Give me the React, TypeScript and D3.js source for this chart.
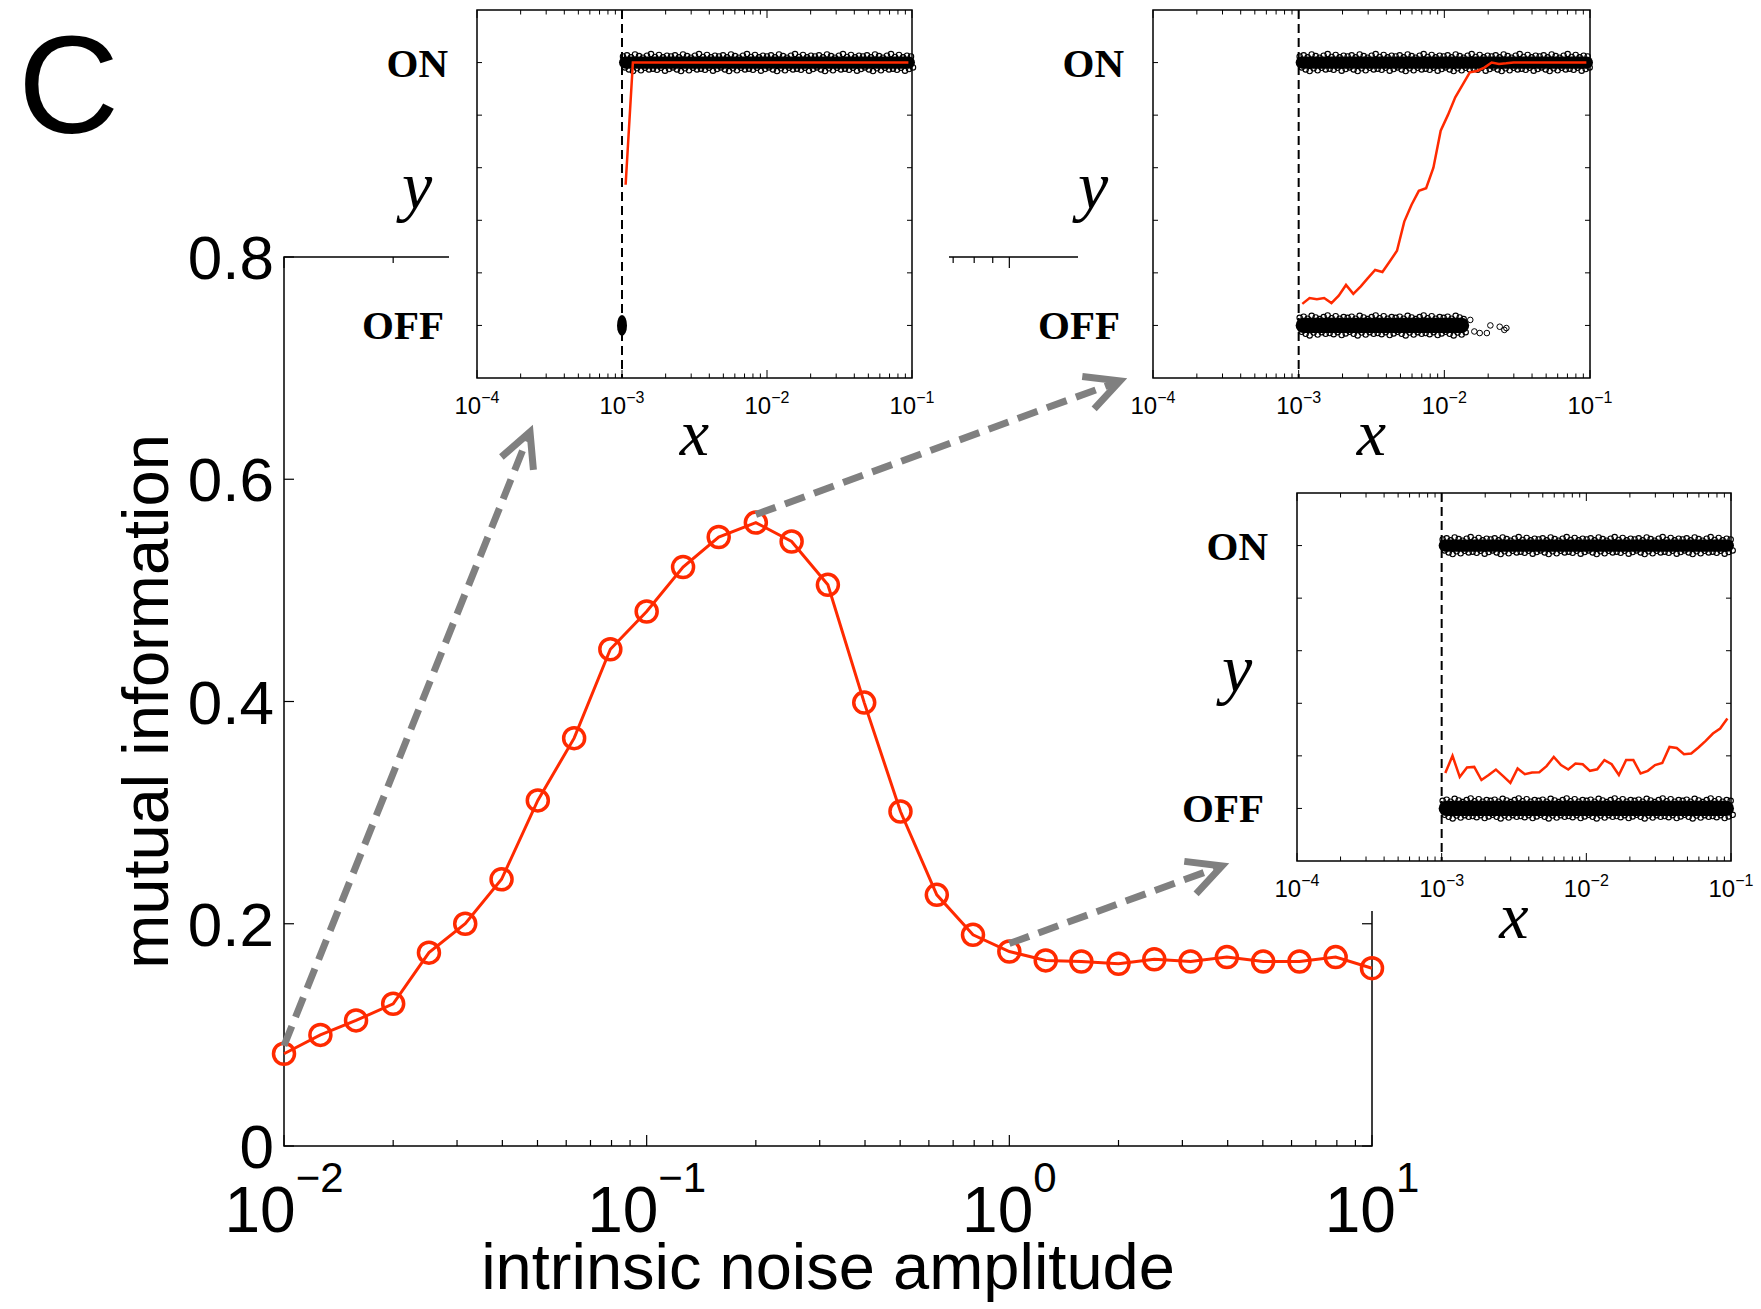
import React from 'react';
import * as d3 from 'd3';

const W = 1761;
const H = 1309;
const RED = '#ff2a00';
const GREY = '#808080';
const SANS = 'Liberation Sans, Arial, Helvetica, sans-serif';
const SERIF = 'Liberation Serif, Times New Roman, serif';

// main panel: mutual information vs intrinsic noise amplitude
const noiseAmp = [0.01, 0.0126, 0.0158, 0.02, 0.0251, 0.0316, 0.0398, 0.0501, 0.0631, 0.0794,
  0.1, 0.126, 0.158, 0.2, 0.251, 0.316, 0.398, 0.501, 0.631, 0.794,
  1, 1.26, 1.58, 2, 2.51, 3.16, 3.98, 5.01, 6.31, 7.94, 10];
const mutualInfo = [0.083, 0.100, 0.113, 0.128, 0.174, 0.200, 0.240, 0.311, 0.367, 0.447,
  0.481, 0.521, 0.548, 0.561, 0.544, 0.505, 0.399, 0.301, 0.226, 0.190,
  0.175, 0.167, 0.166, 0.164, 0.168, 0.166, 0.170, 0.166, 0.166, 0.170, 0.160];
const yTicks = [0, 0.2, 0.4, 0.6, 0.8];
const xTickExp = [-2, -1, 0, 1];

// insets: binned mean of y against signal x (bin centres as log10 x)
const binExp = [-2.975, -2.925, -2.875, -2.825, -2.775, -2.725, -2.675, -2.625, -2.575, -2.525,
  -2.475, -2.425, -2.375, -2.325, -2.275, -2.225, -2.175, -2.125, -2.075, -2.025,
  -1.975, -1.925, -1.875, -1.825, -1.775, -1.725, -1.675, -1.625, -1.575, -1.525,
  -1.475, -1.425, -1.375, -1.325, -1.275, -1.225, -1.175, -1.125, -1.075, -1.025];
const meanLow = [0.535, 1, 1, 1, 1, 1, 1, 1, 1, 1,
  1, 1, 1, 1, 1, 1, 1, 1, 1, 1,
  1, 1, 1, 1, 1, 1, 1, 1, 1, 1,
  1, 1, 1, 1, 1, 1, 1, 1, 1, 1];
const meanPeak = [0.082, 0.104, 0.100, 0.104, 0.085, 0.113, 0.154, 0.120, 0.148, 0.180,
  0.211, 0.203, 0.243, 0.284, 0.395, 0.459, 0.512, 0.522, 0.600, 0.741,
  0.801, 0.868, 0.915, 0.963, 0.968, 0.981, 1.000, 0.995, 0.997, 1,
  1, 1, 1, 1, 1, 1, 1, 1, 1, 1];
const meanHigh = [0.135, 0.200, 0.120, 0.156, 0.158, 0.108, 0.127, 0.148, 0.123, 0.097,
  0.152, 0.130, 0.137, 0.138, 0.161, 0.196, 0.165, 0.148, 0.171, 0.168,
  0.143, 0.149, 0.184, 0.168, 0.127, 0.184, 0.184, 0.133, 0.143, 0.165,
  0.173, 0.234, 0.230, 0.206, 0.209, 0.232, 0.257, 0.285, 0.304, 0.342];
const insetTickExp = [-4, -3, -2, -1];
const insetYTicks = [0, 0.2, 0.4, 0.6, 0.8, 1];
const stateNames = ['OFF', 'ON'];
const threshold = 1e-3;

// scatter clouds of single cells: state, range of log10 x, spread in y
const cloudsLow = [
  { state: 1, from: -3, to: -1, spread: 0.032 },
  { state: 0, from: -3, to: -3, spread: 0.04 },
];
const cloudsPeak = [
  { state: 1, from: -3, to: -1, spread: 0.032 },
  { state: 0, from: -3, to: -1.85, spread: 0.04 },
];
const cloudsHigh = [
  { state: 1, from: -3, to: -1, spread: 0.032 },
  { state: 0, from: -3, to: -1, spread: 0.04 },
];
// lone OFF cells at the end of the peak cloud
const strayPeak = [
  { x: -1.822, y: 0.021 }, { x: -1.794, y: -0.023 }, { x: -1.757, y: -0.029 },
  { x: -1.708, y: -0.029 }, { x: -1.684, y: 0.0 }, { x: -1.62, y: -0.005 },
  { x: -1.588, y: -0.017 }, { x: -1.574, y: -0.01 },
];

const main = { left: 284, right: 1372, top: 257, bottom: 1146 };
const insets = [
  { left: 477, top: 10, width: 435, height: 368, cover: [449, 0, 500, 470], mean: meanLow, clouds: cloudsLow, strays: [], from: 0, tip: [53, 54] },
  { left: 1153, top: 10, width: 437, height: 368, cover: [1078, 0, 683, 470], mean: meanPeak, clouds: cloudsPeak, strays: strayPeak, from: 13, tip: [-33, 3] },
  { left: 1297, top: 493, width: 434, height: 368, cover: [1170, 470, 591, 441], mean: meanHigh, clouds: cloudsHigh, strays: [], from: 20, tip: [-75, 5] },
];

const wobble = [0, 1.5, -1, 2.5, 0.5, -1.5, 1, 3, -0.5, 2, -1, 1];

const isDecade = (t: number) => Math.abs(Math.log10(t) - Math.round(Math.log10(t))) < 1e-6;
const sup = (e: number) => (e < 0 ? '\u2212' + Math.abs(e) : String(e));

function Cloud({ c, x, y }: any) {
  const x0 = x(10 ** c.from);
  const x1 = x(10 ** c.to);
  const yc = y(c.state);
  const s = Math.abs(y(c.spread) - y(0));
  if (x1 - x0 < 1) {
    return <ellipse cx={x0} cy={yc} rx={5} ry={s} fill="black" />;
  }
  const core = s * 0.72;
  const xs = d3.range(x0 + 1, x1, 4);
  return (
    <g>
      <rect x={x0 - 3} y={yc - core} width={x1 - x0 + 6} height={core * 2} rx={core} fill="black" />
      {xs.map((px, i) => (
        <g key={i}>
          <circle cx={px} cy={yc - core - wobble[i % wobble.length] * 0.8} r={2.7} fill="none" stroke="black" strokeWidth={1.1} />
          <circle cx={px + 2} cy={yc + core + wobble[(i + 5) % wobble.length] * 0.8} r={2.7} fill="none" stroke="black" strokeWidth={1.1} />
        </g>
      ))}
    </g>
  );
}

function Inset({ b }: any) {
  const x = d3.scaleLog().domain([1e-4, 1e-1]).range([b.left, b.left + b.width]);
  const y = d3.scaleLinear().domain([-0.2, 1.2]).range([b.top + b.height, b.top]);
  const bottom = b.top + b.height;
  const right = b.left + b.width;
  const line = d3.line<number>().x((_, i) => x(10 ** binExp[i])).y((d) => y(d));
  const cx = b.left + b.width / 2;
  const cy = b.top + b.height / 2;
  return (
    <g>
      <rect x={b.cover[0]} y={b.cover[1]} width={b.cover[2]} height={b.cover[3]} fill="white" />
      {x.ticks().map((t, i) => {
        const len = isDecade(t) ? 8 : 4.5;
        return (
          <g key={i} stroke="black" strokeWidth={1}>
            <line x1={x(t)} x2={x(t)} y1={bottom} y2={bottom - len} />
            <line x1={x(t)} x2={x(t)} y1={b.top} y2={b.top + len} />
          </g>
        );
      })}
      {insetYTicks.map((t) => (
        <g key={t} stroke="black" strokeWidth={1}>
          <line x1={b.left} x2={b.left + 5} y1={y(t)} y2={y(t)} />
          <line x1={right} x2={right - 5} y1={y(t)} y2={y(t)} />
        </g>
      ))}
      <line x1={x(threshold)} x2={x(threshold)} y1={b.top} y2={bottom} stroke="black" strokeWidth={2} strokeDasharray="9 5" />
      {b.clouds.map((c: any, i: number) => <Cloud key={i} c={c} x={x} y={y} />)}
      {b.strays.map((p: any, i: number) => (
        <circle key={i} cx={x(10 ** p.x)} cy={y(p.y)} r={2.8} fill="none" stroke="black" strokeWidth={1} />
      ))}
      <path d={line(b.mean) || ''} fill="none" stroke={RED} strokeWidth={2.5} />
      <rect x={b.left} y={b.top} width={b.width} height={b.height} fill="none" stroke="black" strokeWidth={1.5} />
      {insetTickExp.map((e) => (
        <text key={e} x={x(10 ** e)} y={bottom + 36} textAnchor="middle" fontFamily={SANS} fontSize={24}>
          <tspan>10</tspan>
          <tspan dy={-11} fontSize={16}>{sup(e)}</tspan>
        </text>
      ))}
      {[1, 0].map((s) => (
        <text key={s} x={b.left - (s ? 29 : 33)} y={y(s) + 14} textAnchor="end" fontFamily={SERIF} fontWeight="bold" fontSize={41}>
          {stateNames[s]}
        </text>
      ))}
      <text x={b.left - 60} y={cy + 15} textAnchor="middle" fontFamily={SERIF} fontStyle="italic" fontSize={68}>y</text>
      <text x={cx} y={bottom + 77} textAnchor="middle" fontFamily={SERIF} fontStyle="italic" fontSize={66}>x</text>
    </g>
  );
}

export default function App() {
  const x = d3.scaleLog().domain([0.01, 10]).range([main.left, main.right]);
  const y = d3.scaleLinear().domain([0, 0.8]).range([main.bottom, main.top]);
  const curve = d3.line<number>().x((_, i) => x(noiseAmp[i])).y((d) => y(d));

  return (
    <svg width={W} height={H} style={{ position: 'absolute', left: 0, top: 0, background: 'white' }}>
      <rect width={W} height={H} fill="white" />
      {/* main axes */}
      <rect x={main.left} y={main.top} width={main.right - main.left} height={main.bottom - main.top} fill="none" stroke="black" strokeWidth={1.5} />
      {x.ticks().map((t, i) => {
        const len = isDecade(t) ? 11 : 6;
        return (
          <g key={i} stroke="black" strokeWidth={1.2}>
            <line x1={x(t)} x2={x(t)} y1={main.bottom} y2={main.bottom - len} />
            <line x1={x(t)} x2={x(t)} y1={main.top} y2={main.top + len} />
          </g>
        );
      })}
      {yTicks.map((t) => (
        <g key={t}>
          <line x1={main.left} x2={main.left + 10} y1={y(t)} y2={y(t)} stroke="black" strokeWidth={1.2} />
          <line x1={main.right} x2={main.right - 10} y1={y(t)} y2={y(t)} stroke="black" strokeWidth={1.2} />
          <text x={main.left - 10} y={y(t) + 22} textAnchor="end" fontFamily={SANS} fontSize={62}>{t === 0 ? '0' : t.toFixed(1)}</text>
        </g>
      ))}
      {xTickExp.map((e) => (
        <text key={e} x={x(10 ** e)} y={main.bottom + 86} textAnchor="middle" fontFamily={SANS} fontSize={64}>
          <tspan>10</tspan>
          <tspan dy={-40} fontSize={42}>{sup(e)}</tspan>
        </text>
      ))}
      <text x={(main.left + main.right) / 2} y={1289} textAnchor="middle" fontFamily={SANS} fontSize={65}>intrinsic noise amplitude</text>
      <text transform={`translate(168, ${(main.top + main.bottom) / 2}) rotate(-90)`} textAnchor="middle" fontFamily={SANS} fontSize={65}>mutual information</text>

      {/* main curve */}
      <path d={curve(mutualInfo) || ''} fill="none" stroke={RED} strokeWidth={3} />
      {mutualInfo.map((d, i) => (
        <circle key={i} cx={x(noiseAmp[i])} cy={y(d)} r={10.5} fill="none" stroke={RED} strokeWidth={3.5} />
      ))}

      {/* insets */}
      {insets.map((b, i) => <Inset key={i} b={b} />)}

      {/* arrows from points to insets */}
      {insets.map((b, i) => {
        const sx = x(noiseAmp[b.from]);
        const sy = y(mutualInfo[b.from]) - 8;
        const tx = b.left + b.tip[0];
        const ty = b.top + b.height + b.tip[1];
        const ang = Math.atan2(ty - sy, tx - sx);
        const L = 38;
        const a = (27 * Math.PI) / 180;
        const head = `M${tx - L * Math.cos(ang - a)},${ty - L * Math.sin(ang - a)} L${tx},${ty} L${tx - L * Math.cos(ang + a)},${ty - L * Math.sin(ang + a)}`;
        return (
          <g key={i} stroke={GREY} strokeWidth={7} fill="none">
            <line x1={sx} y1={sy} x2={tx - 4 * Math.cos(ang)} y2={ty - 4 * Math.sin(ang)} strokeDasharray="21 10" />
            <path d={head} strokeLinejoin="miter" />
          </g>
        );
      })}

      <text x={18} y={133} fontFamily={SANS} fontSize={140}>C</text>
    </svg>
  );
}
